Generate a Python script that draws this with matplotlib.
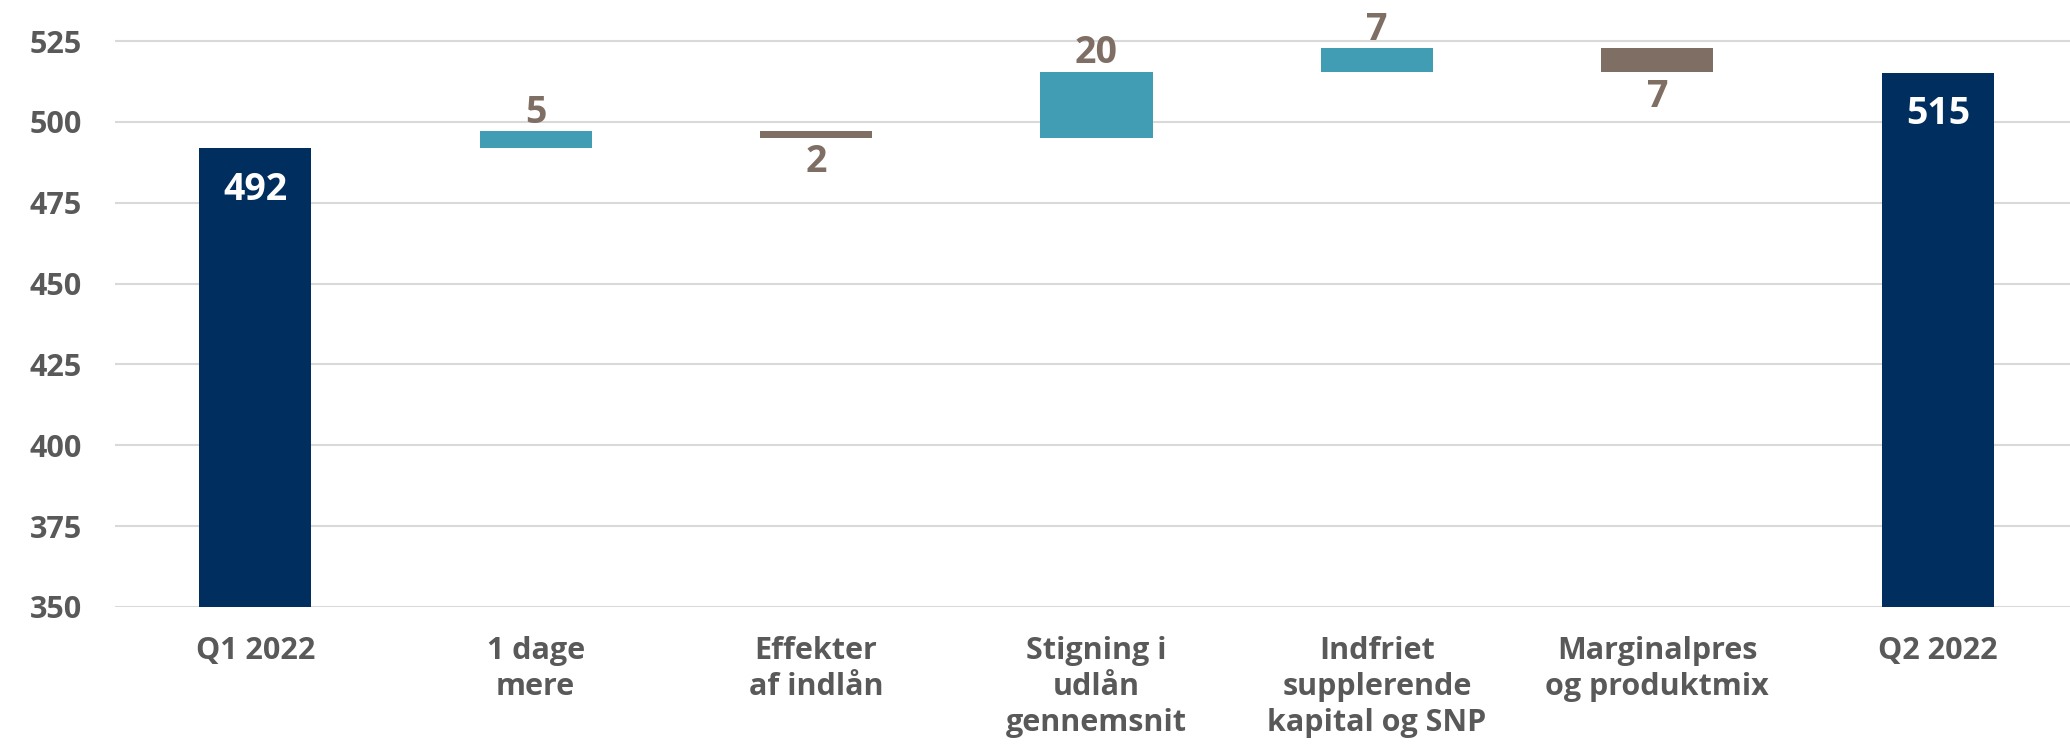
import matplotlib
matplotlib.use("Agg")
import matplotlib.pyplot as plt
import numpy as np

# waterfall data (DKK m), labels are shown rounded
categories = ["Q1 2022", "1 dage\nmere", "Effekter\naf indlån", "Stigning i\nudlån\ngennemsnit",
              "Indfriet\nsupplerende\nkapital og SNP", "Marginalpres\nog produktmix", "Q2 2022"]
start_total = 491.9
changes = [5.2, -2.0, 20.4, 7.3, -7.4]
end_total = 515.2
y_ticks = [350, 375, 400, 425, 450, 475, 500, 525]

NAVY = "#002F5F"
TEAL = "#409DB3"
BROWN = "#7F6E64"
GREY = "#595959"

plt.rcParams['font.family'] = ['Open Sans', 'DejaVu Sans']
plt.rcParams['font.weight'] = 'bold'

fig = plt.figure(figsize=(20.7, 7.48), dpi=100)
ax = fig.add_axes([115 / 2070, 141 / 748, 1963 / 2070, 607 / 748])

base = y_ticks[0]
x = np.arange(len(categories))
width = 0.4

# totals
for xi, val in [(0, start_total), (len(categories) - 1, end_total)]:
    ax.bar(xi, val - base, bottom=base, width=width, color=NAVY, zorder=3)
    ax.annotate(f"{val:.0f}", (xi, val), xytext=(0, -37), textcoords="offset points",
                ha="center", va="baseline", color="white", fontsize=27, fontweight="bold")

# changes
level = start_total
for i, d in enumerate(changes):
    xi = i + 1
    new_level = level + d
    color = TEAL if d > 0 else BROWN
    ax.bar(xi, abs(d), bottom=min(level, new_level), width=width, color=color, zorder=3)
    if d > 0:
        ax.annotate(f"{abs(d):.0f}", (xi, new_level), xytext=(0, 6), textcoords="offset points",
                    ha="center", va="baseline", color=BROWN, fontsize=27, fontweight="bold")
    else:
        ax.annotate(f"{abs(d):.0f}", (xi, new_level), xytext=(0, -25), textcoords="offset points",
                    ha="center", va="baseline", color=BROWN, fontsize=27, fontweight="bold")
    level = new_level

ax.set_xlim(-0.5, len(categories) - 0.5)
ax.set_ylim(350, 537.7)
ax.set_yticks(y_ticks)
ax.set_xticks(x)
ax.set_xticklabels(categories, linespacing=1.25)
ax.tick_params(axis="both", length=0, labelsize=22, labelcolor=GREY)
ax.tick_params(axis="y", pad=24)
ax.tick_params(axis="x", pad=21)
ax.yaxis.grid(True, color="#D9D9D9", linewidth=1.5)
ax.set_axisbelow(True)
for s in ax.spines.values():
    s.set_visible(False)

fig.savefig("out.png", dpi=100)
